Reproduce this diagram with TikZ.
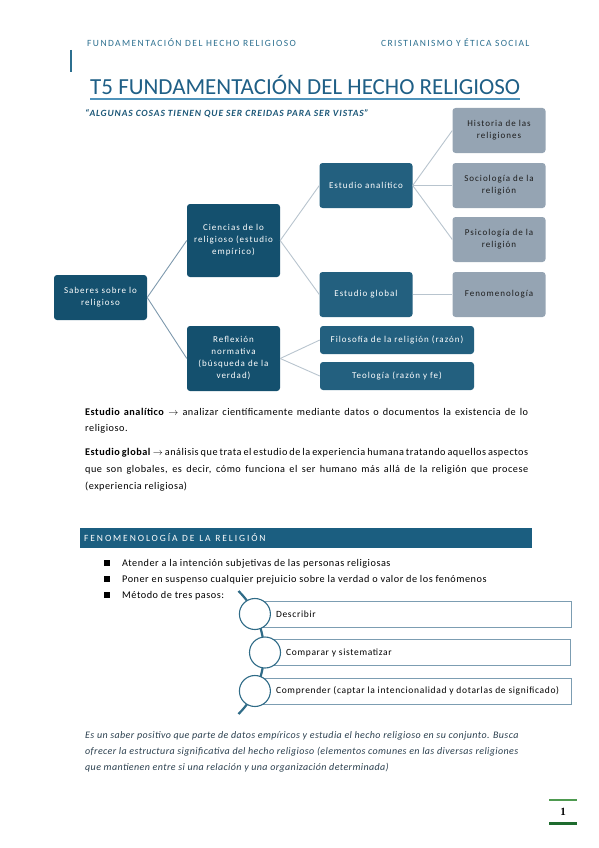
\documentclass[tikz,border=0pt]{standalone}
\usepackage{fontspec}
\setmainfont{Carlito}
\newfontfamily\pagenumfont{Liberation Serif}
\usepackage{tikz}
\usetikzlibrary{positioning}

\definecolor{colHdr}{HTML}{2C6F8F}
\definecolor{colTitle}{HTML}{1F5F86}
\definecolor{colUnder}{HTML}{4F93BB}
\definecolor{colQuote}{HTML}{1D5878}
\definecolor{colDark}{HTML}{14506E}
\definecolor{colMid}{HTML}{23607F}
\definecolor{colGray}{HTML}{95A4B3}
\definecolor{colGrayTxt}{HTML}{1E1E1E}
\definecolor{colLinkA}{HTML}{7E99AD}
\definecolor{colLinkB}{HTML}{B8C4CE}
\definecolor{colBar}{HTML}{1B5E80}
\definecolor{colStep}{HTML}{2F6B87}
\definecolor{colRect}{HTML}{7C9DB2}
\definecolor{colNote}{HTML}{2A3F4E}
\definecolor{colPgLight}{HTML}{4E9A50}
\definecolor{colPgDark}{HTML}{1E6B2E}

\newcommand{\diagfont}{\fontsize{9}{12}\selectfont\addfontfeatures{LetterSpace=11}}
\newcommand{\stepfont}{\fontsize{9.5}{12}\selectfont\addfontfeatures{LetterSpace=7}}
\newcommand{\bodyfont}{\fontsize{10.25}{12}\selectfont\addfontfeatures{LetterSpace=5}}
\newcommand{\barsp}{\hspace{1.5pt} }

\tikzset{
  sbox/.style={fill=colDark, rounded corners=3pt, text=white, align=center,
    font=\diagfont, text width=85pt, inner xsep=4pt, inner ysep=2pt, minimum height=45pt},
  abox/.style={sbox, fill=colMid},
  gbox/.style={sbox, fill=colGray, text=colGrayTxt},
  linkone/.style={draw=colLinkA, line width=0.9pt},
  linktwo/.style={draw=colLinkB, line width=0.9pt},
  bodytxt/.style={anchor=base west, inner sep=0pt, font=\bodyfont},
  steprect/.style={draw=colRect, line width=0.8pt, fill=white, anchor=west, minimum height=26pt, inner sep=0pt},
  steptxt/.style={anchor=west, inner sep=0pt, font=\stepfont},
  stepdot/.style={circle, draw=colStep, line width=1.1pt, fill=white, minimum size=31pt, inner sep=0pt},
  bullsq/.style={fill=black, minimum size=5.5pt, inner sep=0pt}
}

\begin{document}
\begin{tikzpicture}[x=1pt,y=-1pt]
\useasboundingbox (0,0) rectangle (599,848);

% page header
\node[anchor=base west, inner sep=0pt, text=colHdr, font=\fontsize{9.5}{11}\selectfont\addfontfeatures{LetterSpace=15}]
  (hdrl) at (87,47) {FUNDAMENTACIÓN DEL HECHO RELIGIOSO};
\node[anchor=base west, inner sep=0pt, text=colHdr, font=\fontsize{9.5}{11}\selectfont\addfontfeatures{LetterSpace=14}]
  (hdrr) at (381,47) {CRISTIANISMO Y ÉTICA SOCIAL};
\draw[colHdr, line width=1.3pt] (71,50) -- (71,72);

% title and quote
\node[anchor=base west, inner sep=0pt, text=colTitle, font=\fontsize{23}{26}\selectfont]
  (title) at (90,95) {T5 FUNDAMENTACIÓN DEL HECHO RELIGIOSO};
\draw[colUnder, line width=1.2pt] ([yshift=-4pt]title.base west) -- ([yshift=-4pt]title.base east);
\node[anchor=base west, inner sep=0pt, text=colQuote, font=\fontsize{9.5}{11}\selectfont\bfseries\itshape\addfontfeatures{LetterSpace=9}]
  (quote) at (85,117) {“ALGUNAS COSAS TIENEN QUE SER CREIDAS PARA SER VISTAS”};

% tree of boxes
\node[sbox] (sab) at (100.5,297.5) {Saberes sobre lo\\religioso};
\node[sbox, minimum height=73pt] (cie) at (233.5,240.5) {Ciencias de lo\\religioso (estudio\\empírico)};
\node[sbox, minimum height=65pt] (ref) at (233.5,358.5) {Reflexión\\normativa\\(búsqueda de la\\verdad)};
\node[abox] (ana) at (366,185.5) {Estudio analítico};
\node[abox] (glo) at (366,294.5) {Estudio global};
\node[abox, text width=146pt, minimum height=28pt] (fil) at (397,340) {Filosofía de la religión (razón)};
\node[abox, text width=146pt, minimum height=28pt] (teo) at (397,376) {Teología (razón y fe)};
\node[gbox] (his) at (499,130.5) {Historia de las\\religiones};
\node[gbox] (soc) at (499,185.5) {Sociología de la\\religión};
\node[gbox] (psi) at (499,239.5) {Psicología de la\\religión};
\node[gbox] (fen) at (499,294.5) {Fenomenología};

\draw[linkone] (sab.east) -- (cie.west);
\draw[linkone] (sab.east) -- (ref.west);
\foreach \a/\b in {cie/ana, cie/glo, ref/fil, ref/teo, ana/his, ana/soc, ana/psi, glo/fen}
  \draw[linktwo] (\a.east) -- (\b.west);

% notes under the tree
\node[bodytxt] (n1) at (85,415) {\makebox[443pt][s]{\textbf{Estudio analítico} $\rightarrow$ analizar científicamente mediante datos o documentos la existencia de lo}};
\node[bodytxt] (n2) at (85,431) {religioso.};
\node[bodytxt] (n3) at (85,455) {\makebox[443pt][s]{\textbf{Estudio global} $\rightarrow$ análisis que trata el estudio de la experiencia humana tratando aquellos aspectos}};
\node[bodytxt] (n4) at (85,472) {\makebox[443pt][s]{que son globales, es decir, cómo funciona el ser humano más allá de la religión que procese}};
\node[bodytxt] (n5) at (85,489) {(experiencia religiosa)};

% section bar
\node[anchor=west, fill=colBar, text=white, minimum height=20pt, text width=444pt, inner xsep=4pt, align=left,
  font=\fontsize{9.5}{10}\selectfont\addfontfeatures{LetterSpace=20}] (fenbar) at (80,538)
  {FENOMENOLOGÍA\barsp DE\barsp LA\barsp RELIGIÓN};

% bullets
\foreach \txt [count=\k] in {Atender a la intención subjetivas de las personas religiosas,
    Poner en suspenso cualquier prejuicio sobre la verdad o valor de los fenómenos,
    Método de tres pasos:} {
  \node[bullsq] (bq\k) at (107,547+16*\k) {};
  \node[bodytxt] (bt\k) at (122,550.5+16*\k) {\txt};
}

% three steps
\node[steprect, minimum width=316pt] (r1) at (254.9,614) {};
\node[steprect, minimum width=305pt] (r2) at (265,652.5) {};
\node[steprect, minimum width=316pt] (r3) at (254.9,691) {};
\node[steptxt] (s1) at ([xshift=21pt]r1.west) {Describir};
\node[steptxt] (s2) at ([xshift=21pt]r2.west) {Comparar y sistematizar};
\node[steptxt] (s3) at ([xshift=21pt]r3.west) {Comprender (captar la intencionalidad y dotarlas de significado)};
\draw[colStep, line width=2.2pt] (177,652.5) ++(-45:87) arc[start angle=-45, end angle=45, radius=87];
\node[stepdot] (d1) at (r1.west) {};
\node[stepdot] (d2) at (r2.west) {};
\node[stepdot] (d3) at (r3.west) {};

% closing note
\node[bodytxt, text=colNote, font=\fontsize{10}{11}\selectfont\itshape\addfontfeatures{LetterSpace=4}] (c1) at (85,738) {Es un saber positivo que parte de datos empíricos y estudia el hecho religioso en su conjunto. Busca};
\node[bodytxt, text=colNote, font=\fontsize{10}{11}\selectfont\itshape\addfontfeatures{LetterSpace=4}] (c2) at (85,754) {ofrecer la estructura significativa del hecho religioso (elementos comunes en las diversas religiones};
\node[bodytxt, text=colNote, font=\fontsize{10}{11}\selectfont\itshape\addfontfeatures{LetterSpace=4}] (c3) at (85,770) {que mantienen entre si una relación y una organización determinada)};

% page number
\node[font=\pagenumfont\bfseries\fontsize{11}{13}\selectfont] (pg) at (563,812) {1};
\draw[colPgLight, line width=1.8pt] (549,800) -- (577,800);
\draw[colPgDark, line width=3pt] (549,823) -- (577,823);

\end{tikzpicture}
\end{document}
